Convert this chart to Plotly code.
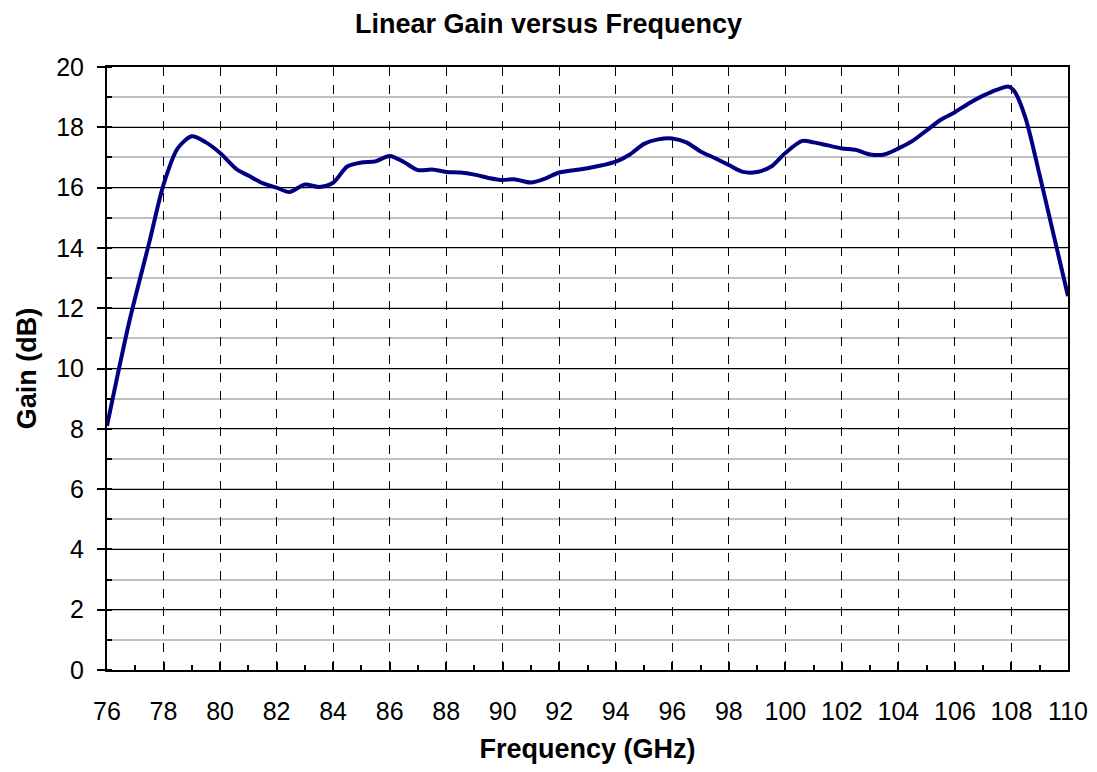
import plotly.graph_objects as go

freq_ghz = [76.0, 76.8, 77.5, 78.0, 78.5, 79.0, 79.5, 80.0, 80.6, 81.0, 81.5, 82.0,
            82.45, 83.0, 83.5, 84.0, 84.5, 85.0, 85.5, 86.0, 86.5, 87.0, 87.5, 88.0,
            88.5, 89.0, 89.5, 90.0, 90.4, 91.0, 91.5, 92.0, 93.0, 94.0, 94.5, 95.0,
            95.5, 96.0, 96.5, 97.0, 97.5, 98.0, 98.5, 99.0, 99.5, 100.0, 100.6, 101.0,
            101.5, 102.0, 102.5, 103.0, 103.5, 104.0, 104.5, 105.0, 105.5, 106.0, 106.5,
            107.0, 107.5, 107.9, 108.1, 108.5, 109.0, 109.5, 110.0]
gain_db = [8.1, 11.6, 14.2, 16.1, 17.3, 17.7, 17.5, 17.15, 16.6, 16.4, 16.15, 16.0,
           15.85, 16.1, 16.02, 16.16, 16.7, 16.83, 16.87, 17.05, 16.85, 16.58, 16.6, 16.52,
           16.5, 16.43, 16.32, 16.25, 16.28, 16.17, 16.3, 16.5, 16.64, 16.86, 17.1, 17.45,
           17.6, 17.63, 17.5, 17.2, 16.98, 16.75, 16.52, 16.52, 16.7, 17.15, 17.55, 17.5,
           17.4, 17.3, 17.25, 17.1, 17.1, 17.3, 17.55, 17.9, 18.25, 18.5, 18.8,
           19.05, 19.25, 19.35, 19.2, 18.3, 16.4, 14.4, 12.4]

x_ticks = list(range(76, 111, 2))
y_ticks = list(range(0, 21, 2))

FONT = "Liberation Sans, Arial, sans-serif"

fig = go.Figure()
fig.add_trace(go.Scatter(
    x=freq_ghz, y=gain_db, mode="lines",
    line=dict(color="#000080", width=4, shape="spline", smoothing=0.8),
    showlegend=False, hoverinfo="x+y",
))

# page body has an 8px margin, so the figure is sized and offset to compensate
fig.update_layout(
    width=1081, height=756,
    paper_bgcolor="white", plot_bgcolor="white",
    margin=dict(l=99, r=21, t=59, b=94, autoexpand=False),
    font=dict(family=FONT, color="black"),
    title=dict(text="<b>Linear Gain versus Frequency</b>", x=0.5, xref="container",
               xanchor="center", y=0.980, yref="container", yanchor="middle",
               font=dict(size=27, family=FONT, color="black")),
)

fig.update_xaxes(
    range=[76, 110], tickmode="array", tickvals=x_ticks, ticktext=[str(v) for v in x_ticks],
    ticks="inside", ticklen=8, tickwidth=1.5, tickcolor="black",
    showgrid=True, gridcolor="black", gridwidth=1, griddash="dash",
    showline=True, linecolor="black", linewidth=2, mirror=True,
    zeroline=False, tickfont=dict(size=25, family=FONT, color="black"),
    ticklabelstandoff=18, automargin=False,
    minor=dict(dtick=1, tick0=76, ticks="inside", ticklen=5, tickcolor="black", tickwidth=1.5, showgrid=False),
    title=dict(text="<b>Frequency (GHz)</b>", font=dict(size=27, family=FONT, color="black"), standoff=16),
)
fig.update_yaxes(
    range=[0, 20], tickmode="array", tickvals=y_ticks, ticktext=[str(v) for v in y_ticks],
    ticks="outside", ticklen=8, tickwidth=1.5, tickcolor="black",
    showgrid=True, gridcolor="black", gridwidth=1.2,
    showline=True, linecolor="black", linewidth=2, mirror=True,
    zeroline=False, tickfont=dict(size=25, family=FONT, color="black"),
    ticklabelstandoff=8, automargin=False,
    minor=dict(dtick=1, tick0=0, ticks="inside", ticklen=5, tickcolor="black", tickwidth=1.5,
               showgrid=True, gridcolor="#c0c0c0", gridwidth=1.5),
    title=dict(text="<b>Gain (dB)</b>", font=dict(size=27, family=FONT, color="black"), standoff=12),
)

fig.write_html("out.html")
